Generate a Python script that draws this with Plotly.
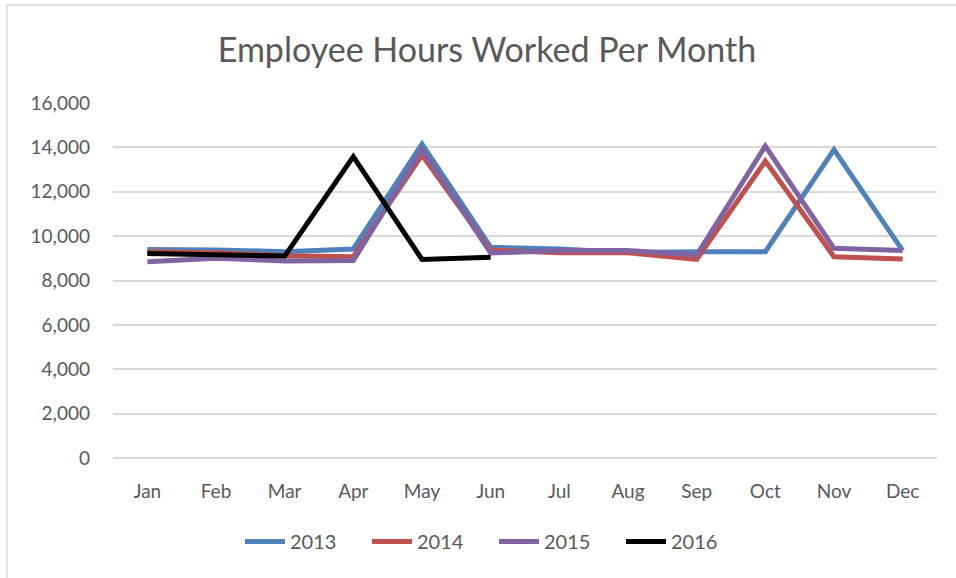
import plotly.graph_objects as go

months = ["Jan", "Feb", "Mar", "Apr", "May", "Jun", "Jul", "Aug", "Sep", "Oct", "Nov", "Dec"]
hours_2013 = [9400, 9380, 9300, 9420, 14150, 9500, 9420, 9260, 9300, 9300, 13900, 9350]
hours_2014 = [9300, 9250, 9120, 9070, 13650, 9370, 9250, 9250, 8950, 13380, 9070, 8970]
hours_2015 = [8850, 9000, 8880, 8900, 13900, 9240, 9350, 9350, 9150, 14060, 9450, 9350]
hours_2016 = [9220, 9150, 9100, 13580, 8950, 9050]

series = [
    ("2013", hours_2013, "#4F81BD"),
    ("2014", hours_2014, "#C0504D"),
    ("2015", hours_2015, "#8064A2"),
    ("2016", hours_2016, "#000000"),
]

fig = go.Figure()
for name, vals, color in series:
    fig.add_trace(go.Scatter(
        x=months[:len(vals)], y=vals, name=name, mode="lines",
        line=dict(color=color, width=5),
    ))

font_family = "Lato, 'Open Sans', sans-serif"
text_color = "#595959"

fig.update_layout(
    width=956, height=578,
    margin=dict(l=113, r=19, t=103, b=120),
    paper_bgcolor="white", plot_bgcolor="white",
    font=dict(family=font_family, color=text_color, size=18),
    title=dict(text="Employee Hours Worked Per Month", x=487 / 956, xref="container",
               y=1 - 50 / 578, yanchor="middle", xanchor="center",
               font=dict(size=34, color=text_color, family=font_family)),
    showlegend=True,
    legend=dict(orientation="h", x=(494 - 113) / 824, xanchor="center", xref="paper",
                y=-0.235, yanchor="middle", font=dict(size=20, color=text_color),
                itemwidth=40, tracegroupgap=0, entrywidth=72, entrywidthmode="pixels"),
    xaxis=dict(type="category", categoryorder="array", categoryarray=months,
               range=[-0.5, 11.5], showgrid=False, showline=False, zeroline=False,
               ticks="", ticklabelstandoff=20, tickfont=dict(size=19, color=text_color)),
    yaxis=dict(range=[0, 16000], dtick=2000, tickformat=",d",
               showgrid=True, gridcolor="#D9D9D9", gridwidth=1.5,
               zeroline=True, zerolinecolor="#D9D9D9", zerolinewidth=1.5,
               showline=False, ticks="", ticklabelstandoff=22,
               tickfont=dict(size=19, color=text_color)),
    shapes=[dict(type="rect", xref="paper", yref="paper",
                 x0=(7 - 113) / 824, x1=(965 - 113) / 824,
                 y0=(458 - 585) / 355, y1=(458 - 5) / 355,
                 line=dict(color="#D9D9D9", width=1.5), fillcolor="rgba(0,0,0,0)",
                 layer="below")],
)

fig.write_html("out.html", config={"displayModeBar": False},
               post_script="document.body.style.margin='0';")
